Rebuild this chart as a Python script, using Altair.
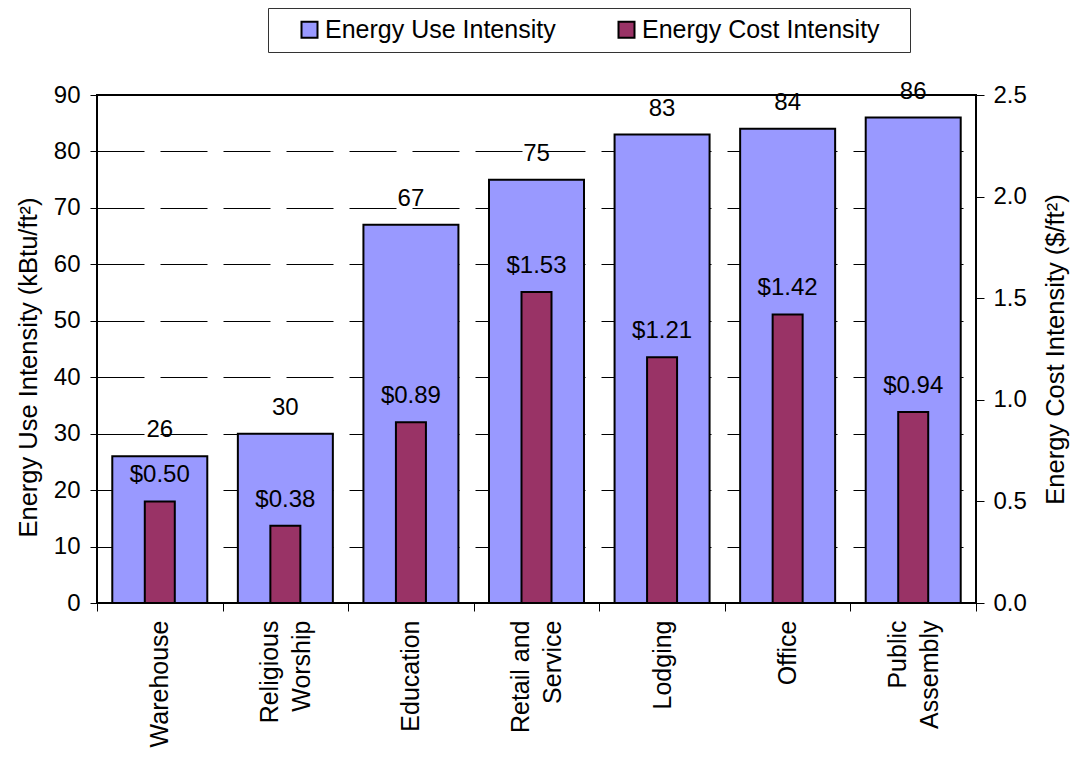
import json
import altair as alt
import pandas as pd

categories = ["Warehouse", "Religious Worship", "Education", "Retail and Service",
              "Lodging", "Office", "Public Assembly"]
axis_lines = [["Warehouse"], ["Religious", "Worship\u00a0"], ["Education"],
              ["Retail and", "Service\u00a0\u00a0"], ["Lodging"], ["Office"],
              ["Public\u00a0\u00a0\u00a0", "Assembly"]]
two_line = ["Religious Worship", "Retail and Service", "Public Assembly"]
eui = [26, 30, 67, 75, 83, 84, 86]
cost = [0.50, 0.38, 0.89, 1.53, 1.21, 1.42, 0.94]
series_names = ["Energy Use Intensity", "Energy Cost Intensity"]
series_colors = ["#9999FF", "#993366"]
eui_ticks = list(range(0, 91, 10))
cost_ticks = [0.0, 0.5, 1.0, 1.5, 2.0, 2.5]

df_eui = pd.DataFrame({"category": categories, "value": eui,
                       "series": series_names[0],
                       "label": [str(v) for v in eui]})
df_cost = pd.DataFrame({"category": categories, "value": cost,
                        "series": series_names[1],
                        "label": ["$%.2f" % v for v in cost]})

FONT = "Liberation Sans"
label_expr = "%s[indexof(%s, datum.value)]" % (json.dumps(axis_lines, ensure_ascii=False),
                                                json.dumps(categories))
two_line_test = "indexof(%s, datum.value) >= 0" % json.dumps(two_line)

x_enc = alt.X("category:N", sort=categories,
              scale=alt.Scale(paddingInner=0, paddingOuter=0),
              axis=alt.Axis(title=None, labelAngle=-90, labelExpr=label_expr,
                            tickBand="extent", tickSize=8, labelPadding=9,
                            labelLineHeight=32, domain=False, labelFontSize=25,
                            labelOffset={"condition": {"test": two_line_test, "value": -16},
                                         "value": 0}))

color_enc = alt.Color("series:N",
                      scale=alt.Scale(domain=series_names, range=series_colors),
                      legend=alt.Legend(title="\u00a0", titleOrient="right", titlePadding=21,
                                        titleFontSize=25, titleFont=FONT,
                                        orient="none", legendX=171, legendY=-87,
                                        direction="horizontal", symbolType="square",
                                        symbolSize=256, symbolStrokeColor="black",
                                        symbolStrokeWidth=2, symbolOpacity=1,
                                        labelFontSize=25, labelFont=FONT, labelColor="black",
                                        labelLimit=500,
                                        labelOffset=3, columnPadding=38, padding=9,
                                        strokeColor="#333333", fillColor="white",
                                        symbolOffset=20))

y_left = alt.Y("value:Q", scale=alt.Scale(domain=[0, 90], nice=False),
               axis=alt.Axis(values=eui_ticks, grid=True, gridDash=[47, 16],
                             gridColor="black", gridWidth=1, tickSize=7, labelPadding=10,
                             title="Energy Use Intensity (kBtu/ft²)", titlePadding=12,
                             titleFontSize=25.5, titleY=272,
                             domain=False, orient="left"))
y_right = alt.Y("value:Q", scale=alt.Scale(domain=[0, 2.5], nice=False),
                axis=alt.Axis(values=cost_ticks, format=".1f", grid=False, tickSize=8,
                              labelPadding=9, orient="right",
                              title="Energy Cost Intensity ($/ft²)", titleAngle=270,
                              titleBaseline="top", titlePadding=17, titleFontSize=25.5,
                              domain=False))

bars_eui = alt.Chart(df_eui).mark_bar(size=95, stroke="black", strokeWidth=2).encode(
    x=x_enc, y=y_left, color=color_enc)
text_eui = alt.Chart(df_eui).mark_text(dy=-19, baseline="alphabetic", fontSize=24,
                                       font=FONT, color="black").encode(
    x=x_enc, y=y_left, text="label:N")
bars_cost = alt.Chart(df_cost).mark_bar(size=30, stroke="black", strokeWidth=2).encode(
    x=x_enc, y=y_right, color=color_enc)
text_cost = alt.Chart(df_cost).mark_text(dy=-19, baseline="alphabetic", fontSize=24,
                                         font=FONT, color="black").encode(
    x=x_enc, y=y_right, text="label:N")

chart = alt.layer(alt.layer(bars_eui, text_eui), alt.layer(bars_cost, text_cost)).resolve_scale(
    y="independent"
).properties(
    width=879, height=508,
    autosize=alt.AutoSizeParams(type="none"),
    padding={"left": 89, "top": 87, "right": 94, "bottom": 146},
    background="white",
).configure_view(
    stroke="black", strokeWidth=2
).configure_axis(
    labelFont=FONT, titleFont=FONT, labelFontSize=24, titleFontSize=24,
    titleFontWeight="normal", labelColor="black", titleColor="black",
    tickColor="black", tickWidth=1
)

chart.save("out.html", embed_options={"renderer": "svg", "actions": False})
